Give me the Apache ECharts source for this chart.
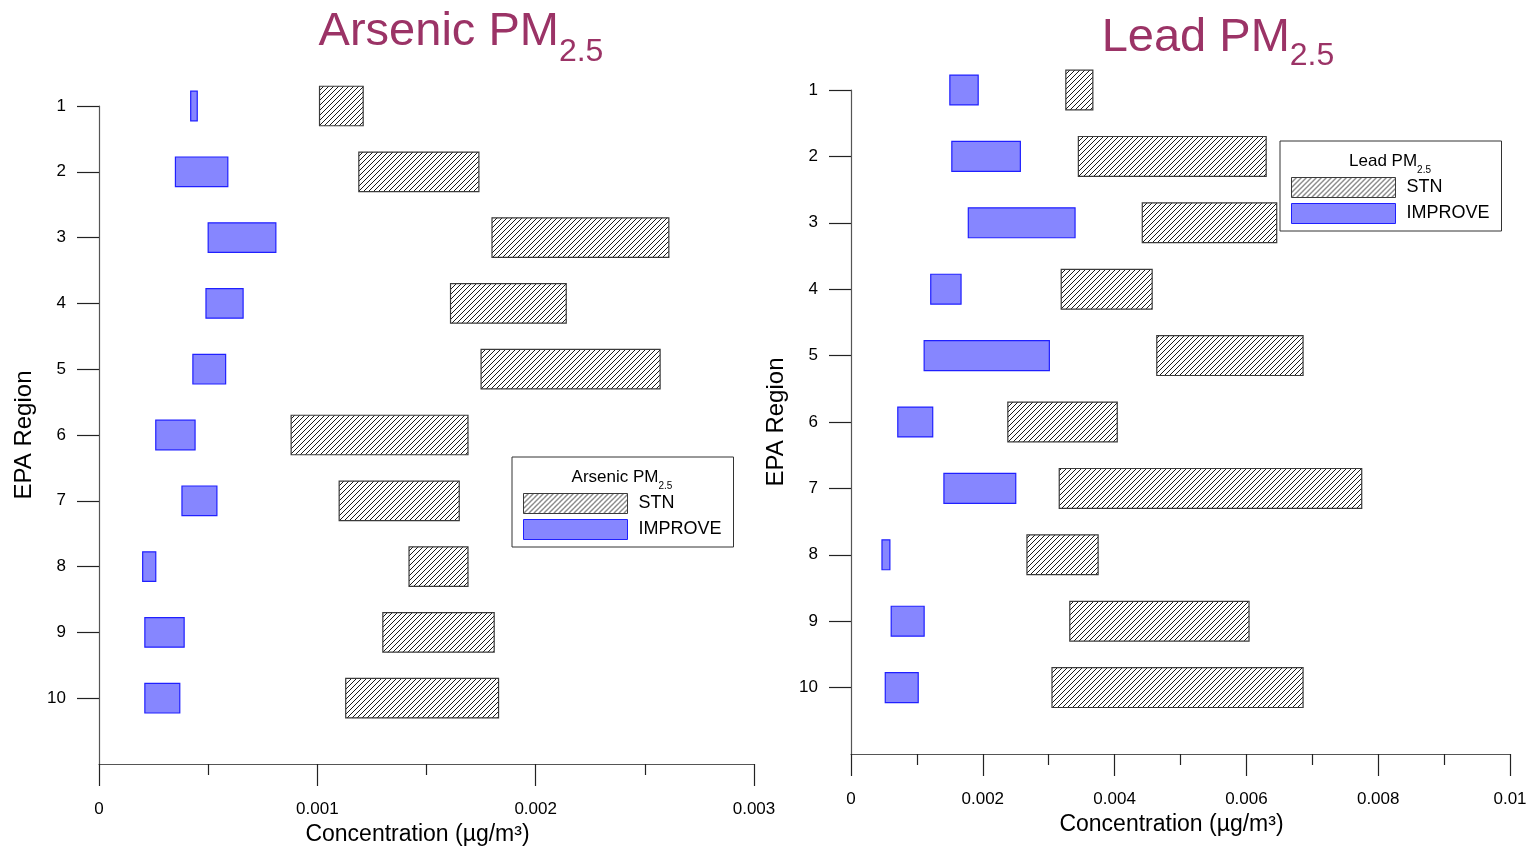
<!DOCTYPE html>
<html>
<head>
<meta charset="utf-8">
<script src="https://cdn.jsdelivr.net/npm/echarts@6/dist/echarts.min.js"></script>
<style>
  html, body { margin: 0; padding: 0; background: #fff; }
  #chart { width: 1531px; height: 848px; }
</style>
</head>
<body>
<div id="chart"></div>
<script>
// EPA regions on the vertical axis
const regions = [1, 2, 3, 4, 5, 6, 7, 8, 9, 10];

// Arsenic PM2.5 concentration ranges (µg/m³)
const arsenicStnLow      = [0.00101, 0.00119, 0.00180, 0.00161, 0.00175, 0.00088, 0.00110, 0.00142, 0.00130, 0.00113];
const arsenicStnHigh     = [0.00121, 0.00174, 0.00261, 0.00214, 0.00257, 0.00169, 0.00165, 0.00169, 0.00181, 0.00183];
const arsenicImproveLow  = [0.00042, 0.00035, 0.00050, 0.00049, 0.00043, 0.00026, 0.00038, 0.00020, 0.00021, 0.00021];
const arsenicImproveHigh = [0.00045, 0.00059, 0.00081, 0.00066, 0.00058, 0.00044, 0.00054, 0.00026, 0.00039, 0.00037];

// Lead PM2.5 concentration ranges (µg/m³)
const leadStnLow      = [0.00326, 0.00345, 0.00442, 0.00319, 0.00464, 0.00238, 0.00316, 0.00267, 0.00332, 0.00305];
const leadStnHigh     = [0.00367, 0.00630, 0.00646, 0.00457, 0.00686, 0.00404, 0.00775, 0.00375, 0.00604, 0.00686];
const leadImproveLow  = [0.00150, 0.00153, 0.00178, 0.00121, 0.00111, 0.00071, 0.00141, 0.00047, 0.00061, 0.00052];
const leadImproveHigh = [0.00193, 0.00257, 0.00340, 0.00167, 0.00301, 0.00124, 0.00250, 0.00059, 0.00111, 0.00102];

// Axis ranges and tick steps
const arsenicAxis = { min: 0, max: 0.003, interval: 0.001 };
const leadAxis    = { min: 0, max: 0.01,  interval: 0.002 };

const TITLE_COLOR = '#9b3366';
const FONT = 'Arial, "Liberation Sans", Helvetica, sans-serif';

// Diagonal hatch fill for the STN bars
function hatchPattern() {
  const s = 5;
  const c = document.createElement('canvas');
  c.width = s; c.height = s;
  const g = c.getContext('2d');
  g.fillStyle = '#ffffff';
  g.fillRect(0, 0, s, s);
  g.strokeStyle = '#000000';
  g.lineWidth = 0.9;
  g.beginPath();
  g.moveTo(0, s); g.lineTo(s, 0);
  g.moveTo(-1, 1); g.lineTo(1, -1);
  g.moveTo(s - 1, s + 1); g.lineTo(s + 1, s - 1);
  g.stroke();
  return { image: c, repeat: 'repeat' };
}
const hatch = hatchPattern();

const stnStyle = { color: hatch, borderColor: '#3a3a3a', borderWidth: 1.2 };
const improveStyle = { color: 'rgba(60,60,255,0.62)', borderColor: '#2020ff', borderWidth: 1.2 };

// Floating bar from low to high at a region; thickness given in axis units
function rangeSeries(name, axisIndex, lows, highs, thickness, style) {
  return {
    type: 'custom',
    name: name,
    xAxisIndex: axisIndex,
    yAxisIndex: axisIndex,
    data: regions.map((r, i) => [lows[i], highs[i], r]),
    encode: { x: [0, 1], y: 2 },
    itemStyle: style,
    renderItem: function (params, api) {
      const y = api.value(2);
      const p0 = api.coord([api.value(0), y]);
      const p1 = api.coord([api.value(1), y]);
      const h = Math.abs(api.size([0, thickness])[1]);
      return {
        type: 'rect',
        shape: { x: p0[0], y: p0[1] - h / 2, width: p1[0] - p0[0], height: h },
        style: { fill: style.color, stroke: style.borderColor, lineWidth: style.borderWidth }
      };
    }
  };
}

function xAxisFor(gridIndex, range) {
  return {
    type: 'value',
    gridIndex: gridIndex,
    min: range.min,
    max: range.max,
    interval: range.interval,
    name: 'Concentration (\u00b5g/m\u00b3)',
    nameLocation: 'middle',
    nameGap: 59,
    nameTextStyle: { fontFamily: FONT, fontSize: 23, color: '#000', padding: [0, 18, 0, 0] },
    axisLine: { show: true, onZero: false, lineStyle: { color: '#555', width: 1.2 } },
    axisTick: { show: true, inside: false, length: 22, lineStyle: { color: '#222', width: 1.2 } },
    minorTick: { show: true, splitNumber: 2, length: 11, lineStyle: { color: '#222', width: 1.2 } },
    axisLabel: { margin: 37, fontFamily: FONT, fontSize: 17, color: '#000',
      formatter: v => String(parseFloat(v.toPrecision(6))) },
    splitLine: { show: false },
    minorSplitLine: { show: false }
  };
}

function yAxisFor(gridIndex) {
  return {
    type: 'value',
    gridIndex: gridIndex,
    min: 1,
    max: 11,
    interval: 1,
    inverse: true,
    name: 'EPA Region',
    nameLocation: 'middle',
    nameRotate: 90,
    nameGap: 63,
    nameTextStyle: { fontFamily: FONT, fontSize: 24, color: '#000' },
    axisLine: { show: true, onZero: false, lineStyle: { color: '#555', width: 1.2 } },
    axisTick: { show: true, inside: false, length: 22, customValues: regions,
      lineStyle: { color: '#222', width: 1.2 } },
    axisLabel: { margin: 33, fontFamily: FONT, fontSize: 17, color: '#000', customValues: regions },
    splitLine: { show: false }
  };
}

function subscriptTitle(main, left, top, big, small, subDrop) {
  return {
    text: '{m|' + main + '}{s|2.5}',
    left: left,
    top: top,
    textAlign: 'center',
    padding: 0,
    textStyle: {
      fontWeight: 'normal',
      rich: {
        m: { fontFamily: FONT, fontSize: big, fontWeight: 'normal', color: TITLE_COLOR,
             lineHeight: big * 1.2, verticalAlign: 'top' },
        s: { fontFamily: FONT, fontSize: small, fontWeight: 'normal', color: TITLE_COLOR,
             lineHeight: small, verticalAlign: 'top', padding: [subDrop, 0, 0, 0] }
      }
    }
  };
}

function legendTitle(main, left, top) {
  return {
    text: '{m|' + main + '}{s|2.5}',
    left: left,
    top: top,
    textAlign: 'center',
    padding: 0,
    textStyle: {
      fontWeight: 'normal',
      rich: {
        m: { fontFamily: FONT, fontSize: 17, fontWeight: 'normal', color: '#000', lineHeight: 20, verticalAlign: 'top' },
        s: { fontFamily: FONT, fontSize: 10, fontWeight: 'normal', color: '#000', lineHeight: 10,
             verticalAlign: 'top', padding: [12, 0, 0, 0] }
      }
    }
  };
}

function legendBox(left, top) {
  return {
    orient: 'vertical',
    left: left,
    top: top,
    padding: [36, 12, 7, 11],
    itemWidth: 104,
    itemHeight: 20,
    itemGap: 5,
    borderColor: '#333',
    borderWidth: 1,
    selectedMode: false,
    textStyle: { fontFamily: FONT, fontSize: 18, color: '#000', padding: [0, 0, 0, 6] },
    data: [
      { name: 'STN', icon: 'rect', itemStyle: { color: hatch, borderColor: '#3a3a3a', borderWidth: 1 } },
      { name: 'IMPROVE', icon: 'rect', itemStyle: { color: 'rgba(60,60,255,0.62)', borderColor: '#2020ff', borderWidth: 1 } }
    ]
  };
}

const chart = echarts.init(document.getElementById('chart'), null, { renderer: 'canvas' });

chart.setOption({
  backgroundColor: '#ffffff',
  animation: false,
  title: [
    subscriptTitle('Arsenic PM', 461, 9, 47, 32, 27),
    subscriptTitle('Lead PM', 1218, 15, 47, 32, 25),
    legendTitle('Arsenic PM', 622, 469),
    legendTitle('Lead PM', 1390, 153)
  ],
  legend: [legendBox(512, 457), legendBox(1280, 141)],
  grid: [
    { left: 99, top: 106, width: 655, height: 658, outerBoundsMode: 'none', containLabel: false },
    { left: 851, top: 90, width: 659, height: 664, outerBoundsMode: 'none', containLabel: false }
  ],
  xAxis: [xAxisFor(0, arsenicAxis), xAxisFor(1, leadAxis)],
  yAxis: [yAxisFor(0), yAxisFor(1)],
  series: [
    rangeSeries('STN', 0, arsenicStnLow, arsenicStnHigh, 0.6, stnStyle),
    rangeSeries('IMPROVE', 0, arsenicImproveLow, arsenicImproveHigh, 0.45, improveStyle),
    rangeSeries('STN', 1, leadStnLow, leadStnHigh, 0.6, stnStyle),
    rangeSeries('IMPROVE', 1, leadImproveLow, leadImproveHigh, 0.45, improveStyle)
  ]
});
</script>
</body>
</html>
